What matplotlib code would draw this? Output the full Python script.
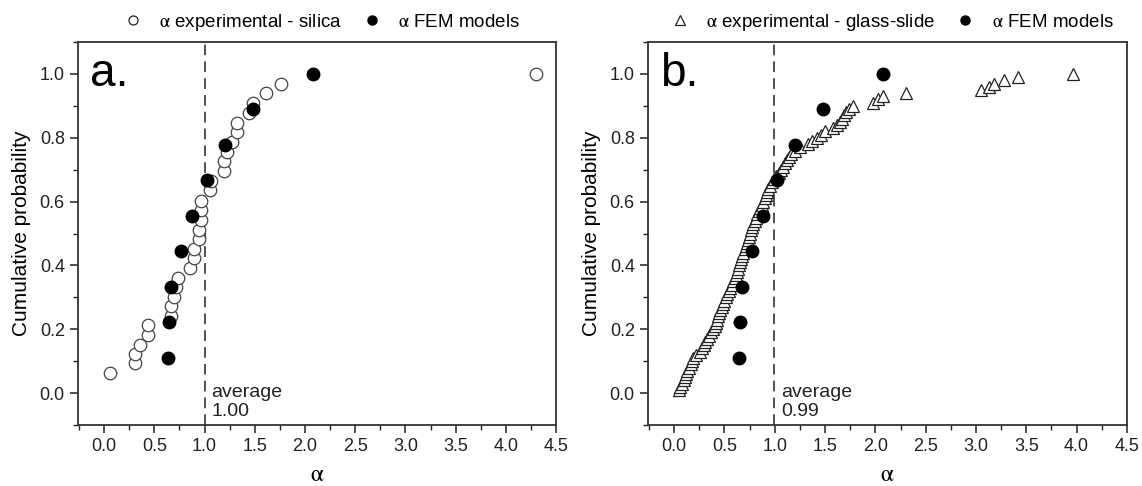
import matplotlib
matplotlib.use("Agg")
import matplotlib.pyplot as plt
from matplotlib.ticker import MultipleLocator
from matplotlib.lines import Line2D

plt.rcParams['font.family'] = ['Liberation Sans', 'DejaVu Sans']
plt.rcParams['mathtext.fontset'] = 'stix'

# panel a: silica experiments (alpha, cumulative probability)
silica_alpha = [0.06, 0.31, 0.31, 0.36, 0.44, 0.44, 0.67, 0.67, 0.70, 0.72, 0.74,
                0.86, 0.90, 0.90, 0.94, 0.94, 0.96, 0.96, 0.96, 1.05, 1.06, 1.19,
                1.19, 1.22, 1.27, 1.32, 1.32, 1.44, 1.48, 1.61, 1.76, 4.30]
silica_prob = [0.062, 0.093, 0.122, 0.151, 0.182, 0.212, 0.242, 0.273, 0.302, 0.332,
               0.361, 0.393, 0.422, 0.452, 0.482, 0.512, 0.543, 0.573, 0.603, 0.635,
               0.666, 0.697, 0.726, 0.756, 0.786, 0.818, 0.847, 0.877, 0.908, 0.940,
               0.969, 1.000]

# FEM models (same in both panels)
fem_alpha = [0.64, 0.65, 0.67, 0.77, 0.88, 1.02, 1.20, 1.48, 2.08]
fem_prob = [0.111, 0.222, 0.333, 0.444, 0.556, 0.667, 0.778, 0.889, 1.000]

# panel b: glass-slide experiments
glass_alpha = [0.05, 0.06, 0.08, 0.10, 0.11, 0.12, 0.13, 0.15, 0.17, 0.18,
               0.19, 0.22, 0.26, 0.28, 0.30, 0.31, 0.33, 0.35, 0.37, 0.39,
               0.41, 0.42, 0.43, 0.44, 0.45, 0.46, 0.48, 0.49, 0.50, 0.52,
               0.53, 0.55, 0.56, 0.58, 0.59, 0.60, 0.61, 0.62, 0.63, 0.64,
               0.65, 0.66, 0.67, 0.68, 0.70, 0.71, 0.72, 0.73, 0.74, 0.75,
               0.76, 0.77, 0.78, 0.80, 0.81, 0.82, 0.84, 0.85, 0.87, 0.88,
               0.90, 0.91, 0.92, 0.93, 0.95, 0.97, 0.99, 1.01, 1.04, 1.06,
               1.08, 1.10, 1.12, 1.14, 1.16, 1.20, 1.25, 1.33, 1.37, 1.42,
               1.46, 1.50, 1.58, 1.62, 1.65, 1.67, 1.69, 1.71, 1.74, 1.78,
               1.98, 2.03, 2.08, 2.30, 3.05, 3.13, 3.18, 3.28, 3.42, 3.96]
glass_prob = [0.01, 0.02, 0.03, 0.04, 0.05, 0.06, 0.07, 0.08, 0.09, 0.10,
              0.11, 0.12, 0.13, 0.14, 0.15, 0.16, 0.17, 0.18, 0.19, 0.20,
              0.21, 0.22, 0.23, 0.24, 0.25, 0.26, 0.27, 0.28, 0.29, 0.30,
              0.31, 0.32, 0.33, 0.34, 0.35, 0.36, 0.37, 0.38, 0.39, 0.40,
              0.41, 0.42, 0.43, 0.44, 0.45, 0.46, 0.47, 0.48, 0.49, 0.50,
              0.51, 0.52, 0.53, 0.54, 0.55, 0.56, 0.57, 0.58, 0.59, 0.60,
              0.61, 0.62, 0.63, 0.64, 0.65, 0.66, 0.67, 0.68, 0.69, 0.70,
              0.71, 0.72, 0.73, 0.74, 0.75, 0.76, 0.77, 0.78, 0.79, 0.80,
              0.81, 0.82, 0.83, 0.84, 0.85, 0.86, 0.87, 0.88, 0.89, 0.90,
              0.91, 0.92, 0.93, 0.94, 0.95, 0.96, 0.97, 0.98, 0.99, 1.00]

averages = [1.00, 0.99]
panel_labels = ['a.', 'b.']
alpha_sym = r'$\mathrm{\alpha}$'
exp_labels = [alpha_sym + ' experimental - silica', alpha_sym + ' experimental - glass-slide']

fig = plt.figure(figsize=(11.42, 4.86), dpi=100)
ax_a = fig.add_axes([0.0683, 0.1255, 0.4186, 0.788])
ax_b = fig.add_axes([0.5674, 0.1255, 0.4194, 0.788])

ax_a.plot(silica_alpha, silica_prob, 'o', ms=9, mfc='white', mec='#444444', mew=0.9, zorder=3)
ax_b.plot(glass_alpha, glass_prob, '^', ms=9, mfc='white', mec='#222222', mew=0.9, zorder=3)

for i, ax in enumerate([ax_a, ax_b]):
    ax.plot(fem_alpha, fem_prob, 'o', ms=9, color='black', zorder=4)
    ax.axvline(averages[i], color='#222222', ls=(0, (7, 4)), lw=1.1, zorder=2)
    ax.text(averages[i] + 0.07, -0.085, 'average\n%.2f' % averages[i], fontsize=14,
            ha='left', va='bottom', color='#222222', linespacing=1.2)
    ax.text(0.025, 0.975, panel_labels[i], transform=ax.transAxes, fontsize=33,
            ha='left', va='top')
    ax.set_xlim(-0.26, 4.5)
    ax.set_ylim(-0.1, 1.1)
    ax.xaxis.set_minor_locator(MultipleLocator(0.25))
    ax.yaxis.set_minor_locator(MultipleLocator(0.1))
    ax.set_xticks([0.0, 0.5, 1.0, 1.5, 2.0, 2.5, 3.0, 3.5, 4.0, 4.5])
    ax.set_yticks([0.0, 0.2, 0.4, 0.6, 0.8, 1.0])
    ax.xaxis.set_major_formatter(plt.FormatStrFormatter('%.1f'))
    ax.yaxis.set_major_formatter(plt.FormatStrFormatter('%.1f'))
    ax.tick_params(which='major', direction='out', length=6, width=1.1, labelsize=13,
                   colors='#222222')
    ax.tick_params(which='minor', direction='out', length=3.5, width=1.0, colors='#222222')
    for sp in ax.spines.values():
        sp.set_linewidth(1.3)
        sp.set_color('#333333')
    ax.set_xlabel(alpha_sym, fontsize=17, labelpad=6)
    ax.set_ylabel('Cumulative probability', fontsize=15, labelpad=6)

    exp_marker = 'o' if i == 0 else '^'
    handles = [Line2D([], [], ls='none', marker=exp_marker, ms=6.5, mfc='white', mec='#222222', mew=0.9),
               Line2D([], [], ls='none', marker='o', ms=6.5, color='black')]
    ax.legend(handles, [exp_labels[i], alpha_sym + ' FEM models'], ncol=2, frameon=False,
              loc='lower center', bbox_to_anchor=(0.5, 1.0), fontsize=13.5,
              handletextpad=0.4, columnspacing=0.6, borderaxespad=0.1)

fig.savefig('out.png', dpi=100, facecolor='white')
